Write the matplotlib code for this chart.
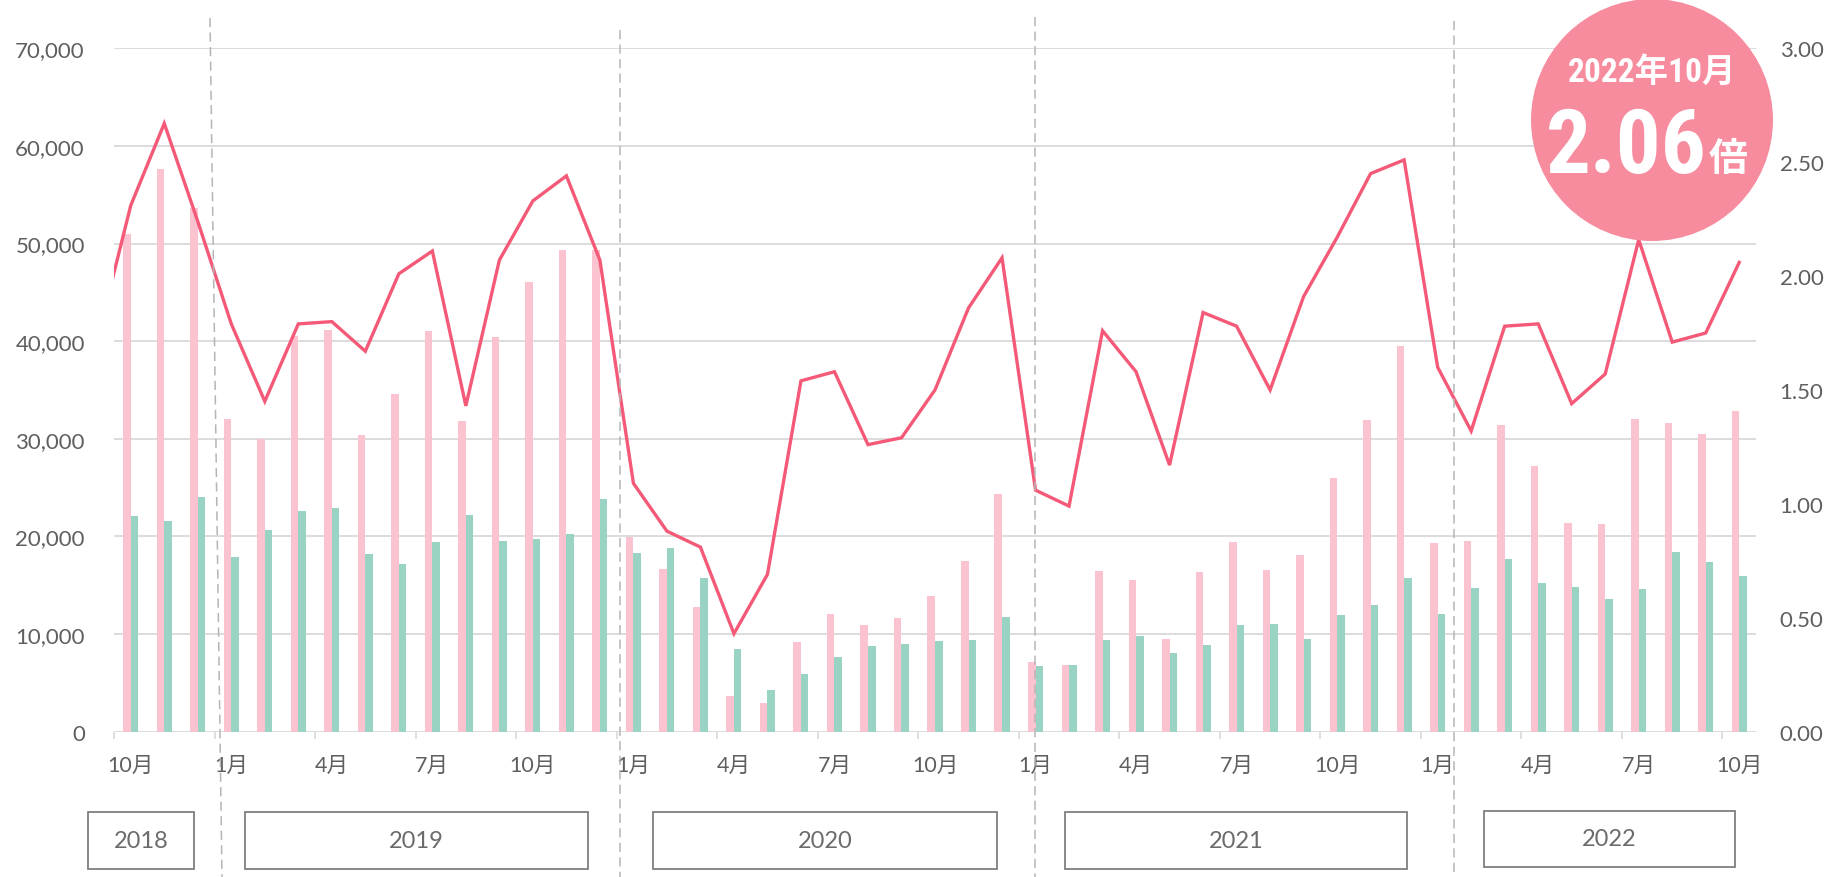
import numpy as np
import matplotlib
matplotlib.use("Agg")
import matplotlib.pyplot as plt
from matplotlib.patches import Rectangle, Ellipse
from matplotlib.lines import Line2D

# ------------------------------------------------------------------------------
# Data (Oct 2018 - Oct 2022, monthly)
# ------------------------------------------------------------------------------
pink_vals = [50950, 57680, 53610,
             32040, 29960, 40540, 41150, 30340, 34570, 41020, 31770, 40410, 46040, 49320, 49300,
             19890, 16620, 12720, 3610, 2930, 9140, 12010, 10920, 11600, 13850, 17470, 24330,
             7100, 6820, 16480, 15490, 9480, 16380, 19380, 16520, 18080, 25940, 31880, 39520,
             19280, 19490, 31430, 27230, 21330, 21290, 31980, 31570, 30470, 32860]
green_vals = [22080, 21600, 24020,
              17880, 20610, 22620, 22900, 18150, 17160, 19410, 22150, 19490, 19760, 20200, 23820,
              18260, 18800, 15760, 8430, 4290, 5930, 7610, 8730, 8970, 9280, 9380, 11700,
              6720, 6850, 9380, 9790, 8050, 8870, 10880, 11020, 9480, 11910, 13000, 15730,
              12040, 14670, 17640, 15180, 14800, 13540, 14630, 18390, 17360, 15900]
# ratio line starts one month earlier (Sep 2018), clipped at the left edge
ratio_vals = [1.72, 2.31, 2.67, 2.24,
              1.79, 1.45, 1.79, 1.80, 1.67, 2.01, 2.11, 1.43, 2.07, 2.33, 2.44, 2.07,
              1.09, 0.88, 0.81, 0.43, 0.69, 1.54, 1.58, 1.26, 1.29, 1.50, 1.86, 2.08,
              1.06, 0.99, 1.76, 1.58, 1.17, 1.84, 1.78, 1.50, 1.91, 2.17, 2.45, 2.51,
              1.60, 1.32, 1.78, 1.79, 1.44, 1.57, 2.16, 1.71, 1.75, 2.06]
month_labels = ["10月", "1月", "4月", "7月"] * 4 + ["10月"]
years = ["2018", "2019", "2020", "2021", "2022"]
left_ticks = [0, 10000, 20000, 30000, 40000, 50000, 60000, 70000]
right_ticks = [0, 0.5, 1.0, 1.5, 2.0, 2.5, 3.0]
badge_title = "2022年10月"
badge_value = "2.06"
badge_unit = "倍"

PINK = "#fbc3cf"
GREEN = "#98d3c4"
LINE = "#f45a78"
BADGE = "#f78c9f"
GRID = "#d9d9d9"
TXT = "#5f5f5f"

W, H = 1829, 878
fig = plt.figure(figsize=(W / 100, H / 100), dpi=100)


def fx(px):
    return px / W


def fy(py):
    return 1 - py / H


tick_font = ["Lato", "Noto Sans CJK JP", "DejaVu Sans"]

ax = fig.add_axes([fx(114), fy(732.6), fx(1756) - fx(114), (732.6 - 49.3) / H])
ax2 = ax.twinx()

n = len(pink_vals)
x = np.arange(n)
w = 0.225
ax.bar(x - w / 2, pink_vals, width=w, color=PINK, zorder=2)
ax.bar(x + w / 2, green_vals, width=w, color=GREEN, zorder=2)

ax.set_xlim(-0.5, n - 0.5)
ax.set_ylim(0, 70000)
ax.set_yticks(left_ticks)
ax.set_yticklabels([f"{v:,}" for v in left_ticks])
ax.yaxis.grid(True, color=GRID, linewidth=1.3, zorder=0)
ax.set_axisbelow(True)

ax.set_xticks(np.arange(0, n, 3))
ax.set_xticklabels(month_labels)
ax.set_xticks(np.arange(0, n, 3) - 0.5, minor=True)
ax.tick_params(axis="x", which="major", length=0, pad=17, labelsize=15.5, labelcolor=TXT)
ax.tick_params(axis="x", which="minor", length=5, width=1.2, color=GRID)
ax.tick_params(axis="y", length=0, pad=21, labelsize=16, labelcolor=TXT)
for lab in ax.get_xticklabels() + ax.get_yticklabels():
    lab.set_family(tick_font)

x_line = np.arange(-1, n)
ax2.plot(x_line, ratio_vals, color=LINE, linewidth=2.4, solid_joinstyle="miter", zorder=3)
ax2.set_xlim(-0.5, n - 0.5)
ax2.set_ylim(0, 3.0)
ax2.set_yticks(right_ticks)
ax2.set_yticklabels([f"{v:.2f}" for v in right_ticks])
ax2.tick_params(axis="y", length=0, pad=17, labelsize=16, labelcolor=TXT)
for lab in ax2.get_yticklabels():
    lab.set_family(tick_font)

for a in (ax, ax2):
    for s in a.spines.values():
        s.set_visible(False)

# year dividers (dashed)
dividers = [((210, 19), (222, 878)), ((620, 31), (620, 878)),
            ((1035, 18), (1035, 878)), ((1454, 22), (1454, 878))]
for (x0, y0), (x1, y1) in dividers:
    fig.add_artist(Line2D([fx(x0), fx(x1)], [fy(y0), fy(y1)], transform=fig.transFigure,
                          color="#b5b5b5", linewidth=1.1, linestyle=(0, (6, 3.5)), zorder=4))

# year boxes
boxes = [(88, 194, 813, 870), (245, 588, 813, 870), (653, 997, 813, 870),
         (1065, 1407, 813, 870), (1484, 1735, 812, 868)]
for yr, (x0, x1, y0, y1) in zip(years, boxes):
    fig.add_artist(Rectangle((fx(x0), fy(y1)), fx(x1) - fx(x0), (y1 - y0) / H,
                             transform=fig.transFigure, facecolor="white",
                             edgecolor="#7f7f7f", linewidth=1.3, zorder=3))
    fig.text(fx((x0 + x1) / 2), fy((y0 + y1) / 2), yr, ha="center", va="center",
             fontsize=17, color="#6b6b6b", family=tick_font, zorder=5)

# badge
fig.add_artist(Ellipse((fx(1652), fy(121)), 242 / W, 242 / H, transform=fig.transFigure,
                       facecolor=BADGE, edgecolor="none", zorder=6))
badge_font = ["Roboto Condensed", "Roboto", "Noto Sans CJK JP"]
fig.text(fx(1652), fy(82), badge_title, ha="center", va="baseline", fontsize=24,
         fontweight="bold", color="white", family=badge_font, zorder=7)
fig.text(fx(1707), fy(173), badge_value, ha="right", va="baseline", fontsize=64,
         fontweight="bold", color="white", family=badge_font, zorder=7)
fig.text(fx(1709), fy(171), badge_unit, ha="left", va="baseline", fontsize=28,
         fontweight="bold", color="white", family=["Noto Sans CJK JP"], zorder=7)

fig.savefig("out.png", dpi=100, facecolor="white")
